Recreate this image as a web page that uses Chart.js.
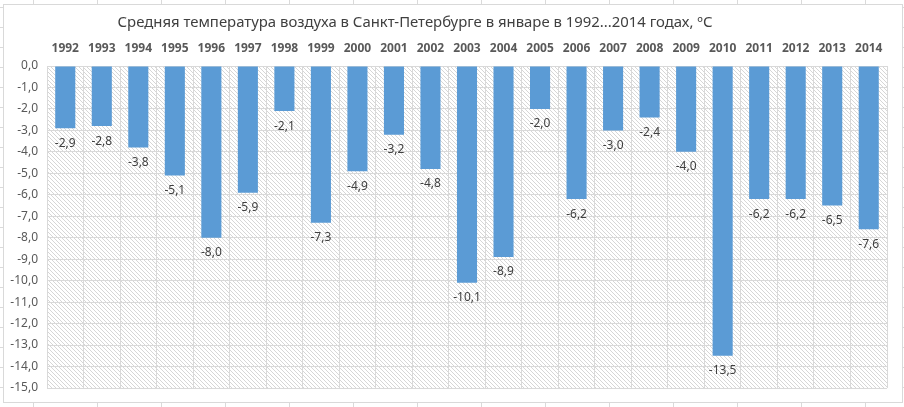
<!DOCTYPE html>
<html>
<head>
<meta charset="utf-8">
<script src="https://cdn.jsdelivr.net/npm/chart.js@4.4.1/dist/chart.umd.min.js"></script>
<style>
  html, body { margin: 0; padding: 0; background: #fff; }
  #wrap { position: relative; width: 904px; height: 407px; }
</style>
</head>
<body>
<div id="wrap"><canvas id="chartTemp" width="904" height="407"></canvas></div>
<script>
// Данные
const years = ["1992", "1993", "1994", "1995", "1996", "1997", "1998", "1999", "2000", "2001", "2002", "2003",
    "2004", "2005", "2006", "2007", "2008", "2009", "2010", "2011", "2012", "2013", "2014"];
const temps = [-2.9, -2.8, -3.8, -5.1, -8.0, -5.9, -2.1, -7.3, -4.9, -3.2, -4.8, -10.1,
    -8.9, -2.0, -6.2, -3.0, -2.4, -4.0, -13.5, -6.2, -6.2, -6.5, -7.6];
const yMin = -15;
const yMax = 0;
const chartTitle = "Средняя температура воздуха в Санкт-Петербурге в январе в 1992...2014 годах, ºС";

const FONT = "'Noto Sans', sans-serif";

function fmt(v) {
    return v.toFixed(1).replace(".", ",");
}

// фон листа Excel, рамка диаграммы и штриховка
const fondo = {
    id: "fondo",
    beforeDraw(chart) {
        const ctx = chart.ctx;
        ctx.save();
        ctx.fillStyle = "#fff";
        ctx.fillRect(0, 0, 904, 407);
        ctx.strokeStyle = "#dadada";
        ctx.lineWidth = 1;
        for (let x = 33; x < 904; x += 64) {
            ctx.beginPath(); ctx.moveTo(x + 0.5, 0); ctx.lineTo(x + 0.5, 407); ctx.stroke();
        }
        for (let y = 7; y < 407; y += 20) {
            ctx.beginPath(); ctx.moveTo(0, y + 0.5); ctx.lineTo(904, y + 0.5); ctx.stroke();
        }
        ctx.fillStyle = "#fff";
        ctx.fillRect(3, 4, 899, 398);
        ctx.strokeStyle = "#d9d9d9";
        ctx.strokeRect(3.5, 4.5, 899, 398);

        // штриховка области построения
        const a = chart.chartArea;
        const p = document.createElement("canvas");
        p.width = 4; p.height = 4;
        const pc = p.getContext("2d");
        pc.fillStyle = "#fff";
        pc.fillRect(0, 0, 4, 4);
        pc.fillStyle = "#d6d6d6";
        for (let i = 0; i < 4; i++) pc.fillRect(i, i, 1, 1);
        ctx.fillStyle = ctx.createPattern(p, "repeat");
        ctx.fillRect(a.left, a.top, a.right - a.left, a.bottom - a.top);

        // заголовок (подгоняем размер под ширину ~594px, как в Excel)
        ctx.fillStyle = "#404040";
        ctx.font = "17px " + FONT;
        const w = ctx.measureText(chartTitle).width;
        const size = Math.min(19, 17 * 594 / w);
        ctx.font = size.toFixed(1) + "px " + FONT;
        ctx.textAlign = "center";
        ctx.textBaseline = "middle";
        ctx.fillText(chartTitle, 415, 23);
        ctx.restore();
    }
};

// подписи значений под столбцами
const etiquetas = {
    id: "etiquetas",
    afterDatasetsDraw(chart) {
        const ctx = chart.ctx;
        const meta = chart.getDatasetMeta(0);
        ctx.save();
        ctx.fillStyle = "#404040";
        ctx.font = "12px " + FONT;
        ctx.textAlign = "center";
        ctx.textBaseline = "middle";
        meta.data.forEach((bar, i) => {
            ctx.fillText(fmt(temps[i]), bar.x, bar.y + 15);
        });
        ctx.restore();
    }
};

const ctx = document.getElementById("chartTemp").getContext("2d");
new Chart(ctx, {
    type: "bar",
    data: {
        labels: years,
        datasets: [{
            data: temps,
            backgroundColor: "#5b9bd5",
            borderWidth: 0,
            barPercentage: 0.55,
            categoryPercentage: 1
        }]
    },
    options: {
        responsive: false,
        animation: false,
        layout: { padding: { left: 7, top: 42, right: 17, bottom: 19 } },
        plugins: {
            legend: { display: false },
            title: { display: false },
            tooltip: { enabled: false }
        },
        scales: {
            x: {
                position: "top",
                grid: { color: "#d9d9d9", offset: true, drawTicks: false },
                border: { color: "#d9d9d9" },
                ticks: {
                    color: "#595959",
                    padding: 10,
                    maxRotation: 0,
                    autoSkip: false,
                    font: { family: FONT, size: 12, weight: "bold" }
                },
                afterFit(scale) { scale.height = 24; }
            },
            y: {
                min: yMin,
                max: yMax,
                grid: { color: "#d9d9d9", drawTicks: false },
                border: { color: "#d9d9d9" },
                ticks: {
                    stepSize: 1,
                    color: "#595959",
                    padding: 9,
                    font: { family: FONT, size: 12 },
                    callback: v => fmt(v)
                },
                afterFit(scale) { scale.width = 40; }
            }
        }
    },
    plugins: [fondo, etiquetas]
});
</script>
</body>
</html>
